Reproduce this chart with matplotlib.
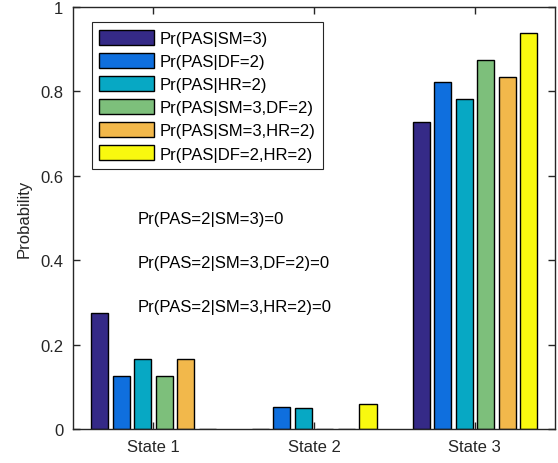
import numpy as np
import matplotlib
matplotlib.use("Agg")
import matplotlib.pyplot as plt

plt.rcParams['font.family'] = ['Liberation Sans', 'DejaVu Sans']

states = ['State 1', 'State 2', 'State 3']
labels = ['Pr(PAS|SM=3)', 'Pr(PAS|DF=2)', 'Pr(PAS|HR=2)',
          'Pr(PAS|SM=3,DF=2)', 'Pr(PAS|SM=3,HR=2)', 'Pr(PAS|DF=2,HR=2)']
# one list per series, values for State 1..3
sm3 = [0.274, 0.001, 0.727]
df2 = [0.126, 0.053, 0.821]
hr2 = [0.166, 0.051, 0.783]
sm3_df2 = [0.125, 0.0, 0.875]
sm3_hr2 = [0.165, 0.0, 0.835]
df2_hr2 = [0.001, 0.060, 0.939]
colors = ['#352a87', '#0f6fde', '#07a8c4', '#7dbf7b', '#f2b84b', '#f9f90f']
notes = ['Pr(PAS=2|SM=3)=0', 'Pr(PAS=2|SM=3,DF=2)=0', 'Pr(PAS=2|SM=3,HR=2)=0']

series = [sm3, df2, hr2, sm3_df2, sm3_hr2, df2_hr2]

fig = plt.figure(figsize=(5.58, 4.64), dpi=100)
ax = fig.add_axes([0.131, 0.073, 0.864, 0.910])

x = np.arange(1, 4)
step = 0.134
w = 0.106
for k, vals in enumerate(series):
    ax.bar(x + (k - 2.5) * step, vals, w, color=colors[k], edgecolor='black',
           linewidth=1.0, label=labels[k])

for t, yv in zip(notes, [0.50, 0.395, 0.29]):
    ax.text(0.904, yv, t, fontsize=12, va='center', ha='left', color='black')

ax.set_xlim(0.5, 3.5)
ax.set_ylim(0, 1)
ax.set_xticks(x)
ax.set_xticklabels(states)
ax.set_yticks([0, 0.2, 0.4, 0.6, 0.8, 1])
ax.set_yticklabels(['0', '0.2', '0.4', '0.6', '0.8', '1'])
ax.set_ylabel('Probability', fontsize=12, color='#262626', labelpad=6)
ax.tick_params(direction='in', top=True, right=True, length=5, labelsize=12,
               colors='#262626', width=1, pad=7)
for s in ax.spines.values():
    s.set_color('#262626')
    s.set_linewidth(1)

leg = ax.legend(loc='upper left', bbox_to_anchor=(0.039, 0.964), fontsize=12,
                fancybox=False, framealpha=1, edgecolor='#262626',
                handlelength=3.3, handleheight=1.0, labelspacing=0.42,
                handletextpad=0.3, borderpad=0.45, borderaxespad=0)
leg.get_frame().set_linewidth(0.8)

fig.savefig('out.png', dpi=100)
